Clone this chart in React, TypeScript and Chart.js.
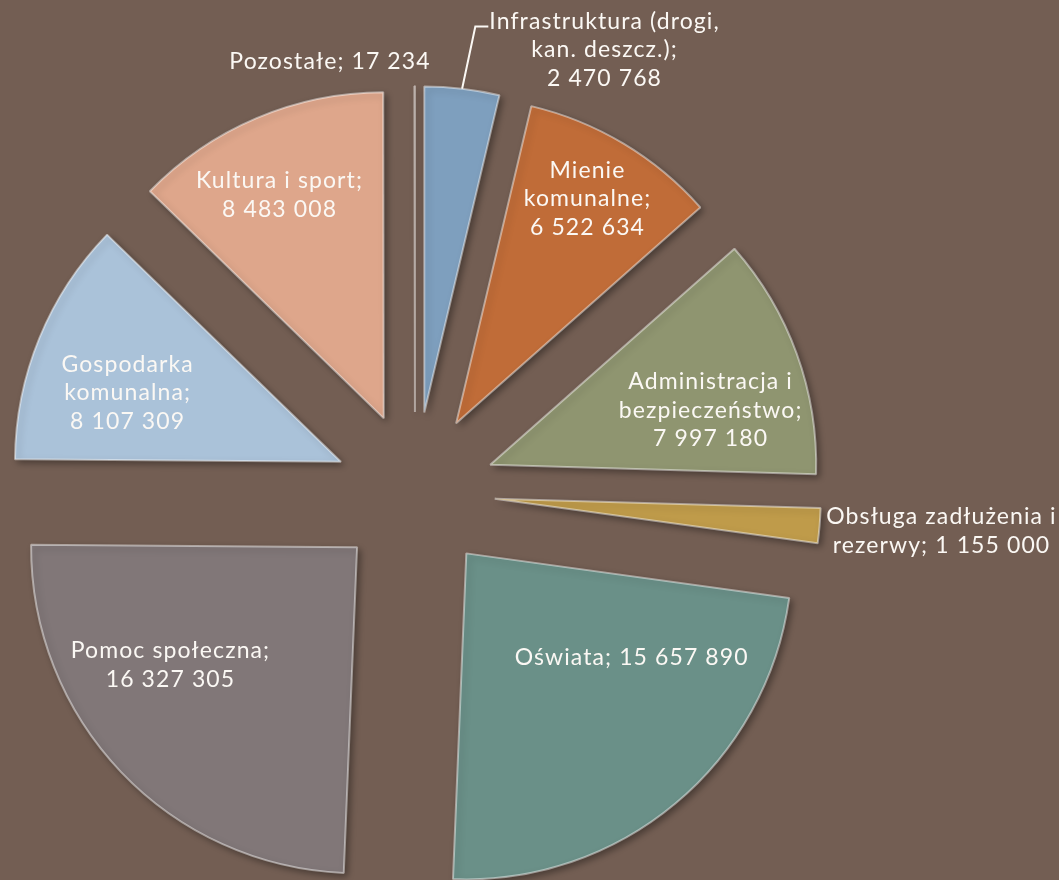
import React, { useEffect, useRef } from "react";
import { Chart, registerables } from "chart.js";

Chart.register(...registerables);

// ---- data ----
const categories = [
  "Infrastruktura (drogi, kan. deszcz.)",
  "Mienie komunalne",
  "Administracja i bezpieczeństwo",
  "Obsługa zadłużenia i rezerwy",
  "Oświata",
  "Pomoc społeczna",
  "Gospodarka komunalna",
  "Kultura i sport",
  "Pozostałe",
];
const values = [2470768, 6522634, 7997180, 1155000, 15657890, 16327305, 8107309, 8483008, 17234];

// label text layout ("{v}" = formatted value)
const labelLines = [
  ["Infrastruktura (drogi,", "kan. deszcz.);", "{v}"],
  ["Mienie", "komunalne;", "{v}"],
  ["Administracja i", "bezpieczeństwo;", "{v}"],
  ["Obsługa zadłużenia i", "rezerwy; {v}"],
  ["Oświata; {v}"],
  ["Pomoc społeczna;", "{v}"],
  ["Gospodarka", "komunalna;", "{v}"],
  ["Kultura i sport;", "{v}"],
  ["Pozostałe; {v}"],
];

// ---- styling ----
const sliceColors = ["#7E9FBE", "#C06C38", "#8F9570", "#BF9B4A", "#6A9088", "#817778", "#AAC2D9", "#DEA68B", "#9A8A80"];
const BG = "#735E53";
const PIE_RADIUS = 326;
const EXPLODE = 80;
// label placement: clock angle (deg, from 12 o'clock clockwise) and distance from pie centre (px)
const labelAngle = [23.15, 30.4, 74.5, 94.24, 127.5, 234.8, 289.0, 335.4, 348.75];
const labelDist = [480.7, 339.8, 306.2, 527.4, 272.4, 299.9, 304.5, 326.7, 438.4];
const LINE_H = 28.5;
const FONT = "23px Lato";
const LETTER_SPACING = 1.1;
const TEXT_COLOR = "#FBF8F4";

const fmt = (v: number) => String(v).replace(/\B(?=(\d{3})+(?!\d))/g, " ");

const piePlugin = {
  id: "explodeAndLabels",
  afterDatasetUpdate(chart: any, args: any) {
    const meta = chart.getDatasetMeta(args.index);
    meta.data.forEach((arc: any) => {
      const mid = (arc.startAngle + arc.endAngle) / 2;
      arc.x += Math.cos(mid) * EXPLODE;
      arc.y += Math.sin(mid) * EXPLODE;
    });
  },
  beforeDatasetsDraw(chart: any) {
    const ctx = chart.ctx;
    ctx.save();
    ctx.shadowColor = "rgba(0,0,0,0.38)";
    ctx.shadowBlur = 7;
    ctx.shadowOffsetX = 3;
    ctx.shadowOffsetY = 3;
  },
  afterDatasetsDraw(chart: any) {
    const ctx = chart.ctx;
    ctx.restore();
    const area = chart.chartArea;
    const cx = (area.left + area.right) / 2;
    const cy = (area.top + area.bottom) / 2;
    const meta = chart.getDatasetMeta(0);
    ctx.save();
    ctx.font = FONT;
    (ctx as any).letterSpacing = LETTER_SPACING + "px";
    ctx.fillStyle = TEXT_COLOR;
    ctx.textAlign = "center";
    ctx.textBaseline = "middle";
    values.forEach((v, i) => {
      const a = ((labelAngle[i] - 90) * Math.PI) / 180;
      const x = cx + Math.cos(a) * labelDist[i] + LETTER_SPACING / 2;
      const y = cy + Math.sin(a) * labelDist[i];
      const lines = labelLines[i].map((l) => l.replace("{v}", fmt(v)));
      const y0 = y - ((lines.length - 1) * LINE_H) / 2;
      lines.forEach((l, k) => ctx.fillText(l, x, y0 + k * LINE_H));
      if (i === 0) {
        // leader line from label to slice outer edge
        const w = ctx.measureText(lines[0]).width;
        const sx = x - w / 2 - 1;
        const sy = y0 + 5;
        const arc: any = meta.data[0];
        const mid = (arc.startAngle + arc.endAngle) / 2;
        const ex = arc.x + Math.cos(mid) * arc.outerRadius;
        const ey = arc.y + Math.sin(mid) * arc.outerRadius;
        ctx.strokeStyle = TEXT_COLOR;
        ctx.lineWidth = 2;
        ctx.beginPath();
        ctx.moveTo(sx, sy);
        ctx.lineTo(sx - 13, sy);
        ctx.lineTo(ex, ey);
        ctx.stroke();
      }
    });
    ctx.restore();
  },
};

export default function App() {
  const ref = useRef<HTMLCanvasElement | null>(null);
  useEffect(() => {
    document.body.style.margin = "0";
    const chart = new Chart(ref.current as HTMLCanvasElement, {
      type: "pie",
      data: {
        labels: categories,
        datasets: [
          {
            data: values,
            backgroundColor: sliceColors,
            borderColor: "rgba(255,255,255,0.45)",
            borderWidth: 2,
            clip: false,
          } as any,
        ],
      },
      options: {
        animation: false,
        responsive: false,
        events: [],
        radius: PIE_RADIUS,
        layout: { padding: { left: 0, right: 229, top: 104, bottom: 0 } },
        plugins: { legend: { display: false }, tooltip: { enabled: false } },
      } as any,
      plugins: [piePlugin],
    });
    return () => chart.destroy();
  }, []);
  return (
    <div style={{ position: "fixed", left: 0, top: 0, width: 1059, height: 880, overflow: "hidden", background: BG }}>
      <canvas ref={ref} width={1059} height={880} style={{ display: "block" }} />
    </div>
  );
}
